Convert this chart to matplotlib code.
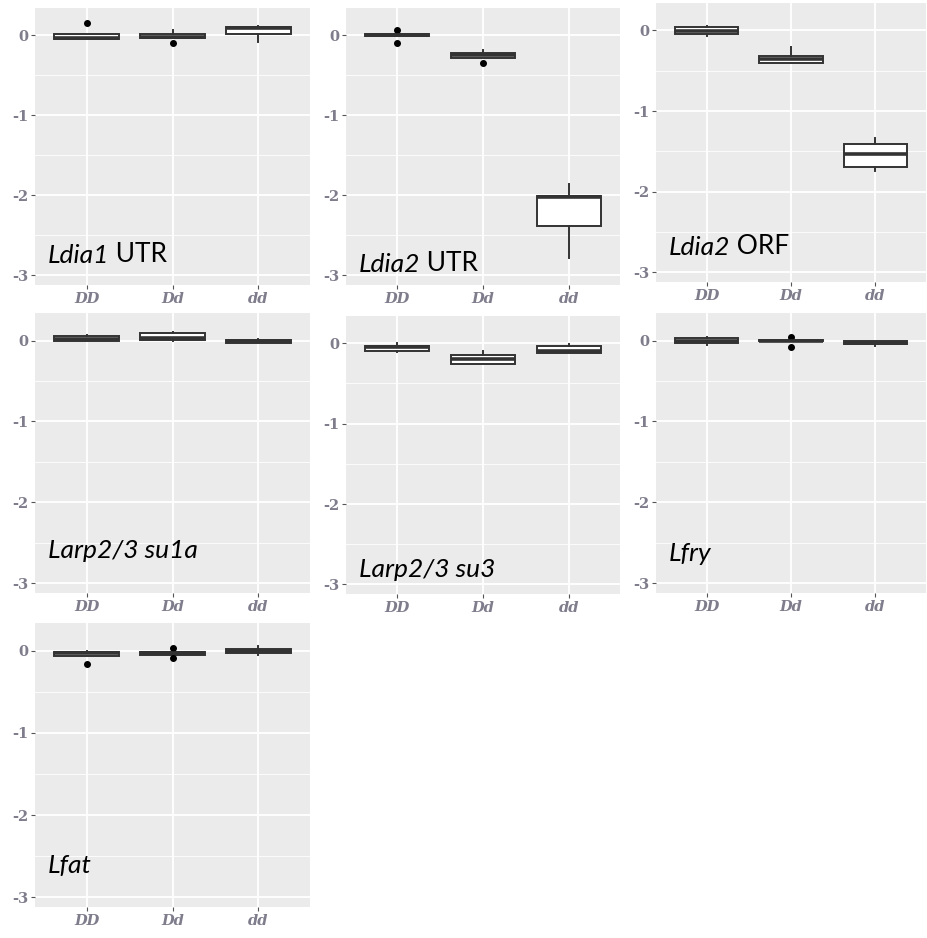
import matplotlib
matplotlib.use("Agg")
import matplotlib.pyplot as plt

W, H = 928, 938

genotypes = ["DD", "Dd", "dd"]

# panel labels: italic part, upright part
label_it = ["Ldia1", "Ldia2", "Ldia2", "Larp2/3 su1a", "Larp2/3 su3", "Lfry", "Lfat"]
label_rm = [" UTR", " UTR", " ORF", "", "", "", ""]
label_y = [-2.84, -2.96, -2.79, -2.69, -2.91, -2.72, -2.70]

# box stats per panel, one value per genotype (DD, Dd, dd)
q1 = [[-0.05, -0.04, 0.01], [-0.01, -0.28, -2.38], [-0.05, -0.40, -1.69],
      [-0.01, 0.01, -0.03], [-0.09, -0.26, -0.125], [-0.035, -0.01, -0.04],
      [-0.067, -0.05, -0.03]]
med = [[-0.03, -0.02, 0.09], [0.0, -0.25, -2.02], [-0.01, -0.36, -1.53],
       [0.02, 0.03, -0.01], [-0.05, -0.20, -0.10], [-0.005, 0.0, -0.025],
       [-0.03, -0.03, 0.0]]
q3 = [[0.02, 0.01, 0.10], [0.01, -0.22, -2.01], [0.04, -0.32, -1.41],
      [0.05, 0.09, 0.01], [-0.03, -0.14, -0.03], [0.025, 0.01, -0.01],
      [-0.017, -0.01, 0.02]]
wlo = [[-0.05, -0.04, -0.08], [-0.01, -0.28, -2.78], [-0.07, -0.40, -1.74],
       [-0.01, 0.0, -0.03], [-0.11, -0.26, -0.125], [-0.06, -0.01, -0.065],
       [-0.067, -0.05, -0.05]]
whi = [[0.02, 0.06, 0.12], [0.01, -0.19, -1.86], [0.06, -0.21, -1.34],
       [0.07, 0.10, 0.02], [0.01, -0.10, -0.01], [0.04, 0.01, -0.01],
       [0.0, -0.01, 0.06]]
fliers = [[[0.15], [-0.10], []], [[0.06, -0.10], [-0.35], []], [[], [], []],
          [[], [], []], [[], [], []], [[], [0.04, -0.075], []],
          [[-0.16], [0.04, -0.09], []]]

# axes rectangles in pixels: left, top, width, height
rects = [(35, 8, 275, 277), (346, 8, 274, 277), (656, 3, 270, 279),
         (35, 313, 275, 280), (346, 316, 274, 278), (656, 313, 270, 280),
         (35, 623, 275, 284)]

tick_color = "#7f7c8c"

fig = plt.figure(figsize=(W / 100, H / 100), dpi=100)

for i, (l, t, w, h) in enumerate(rects):
    ax = fig.add_axes([l / W, 1 - (t + h) / H, w / W, h / H])
    ax.set_facecolor("#EBEBEB")
    for s in ax.spines.values():
        s.set_visible(False)
    ax.set_axisbelow(True)

    stats = []
    for j in range(3):
        stats.append({"med": med[i][j], "q1": q1[i][j], "q3": q3[i][j],
                      "whislo": wlo[i][j], "whishi": whi[i][j],
                      "fliers": fliers[i][j]})
    ax.bxp(stats, positions=[1, 2, 3], widths=0.75, patch_artist=True,
           showcaps=False,
           boxprops=dict(facecolor="white", edgecolor="#333333", linewidth=1.4),
           medianprops=dict(color="#333333", linewidth=2.6),
           whiskerprops=dict(color="#333333", linewidth=1.4),
           flierprops=dict(marker="o", markerfacecolor="black",
                           markeredgecolor="black", markersize=4))

    ax.set_xlim(0.4, 3.6)
    ax.set_ylim(-3.12, 0.34)
    ax.set_yticks([0, -1, -2, -3])
    ax.set_yticklabels(["0", "-1", "-2", "-3"])
    ax.set_yticks([-0.5, -1.5, -2.5], minor=True)
    ax.set_xticks([1, 2, 3])
    ax.set_xticklabels(genotypes)
    ax.grid(True, which="major", color="white", linewidth=1.3)
    ax.grid(True, which="minor", axis="y", color="white", linewidth=0.6)
    ax.tick_params(which="major", length=3, width=0.8, color="#555555", pad=2)
    ax.tick_params(which="minor", length=0)
    for lab in ax.get_yticklabels():
        lab.set_fontfamily("DejaVu Serif")
        lab.set_fontweight("bold")
        lab.set_fontsize(10.5)
        lab.set_color(tick_color)
    for lab in ax.get_xticklabels():
        lab.set_fontfamily("DejaVu Serif")
        lab.set_fontweight("bold")
        lab.set_fontstyle("italic")
        lab.set_fontsize(10.5)
        lab.set_color(tick_color)

    txt = ax.text(0.55, label_y[i], label_it[i], fontfamily="Lato",
                  fontstyle="italic", fontsize=19, color="black",
                  ha="left", va="baseline")
    if label_rm[i]:
        ax.annotate(label_rm[i], xy=(1, 0), xycoords=txt, fontfamily="Lato",
                    fontsize=19, color="black", ha="left", va="bottom")

fig.savefig("out.png", dpi=100)
